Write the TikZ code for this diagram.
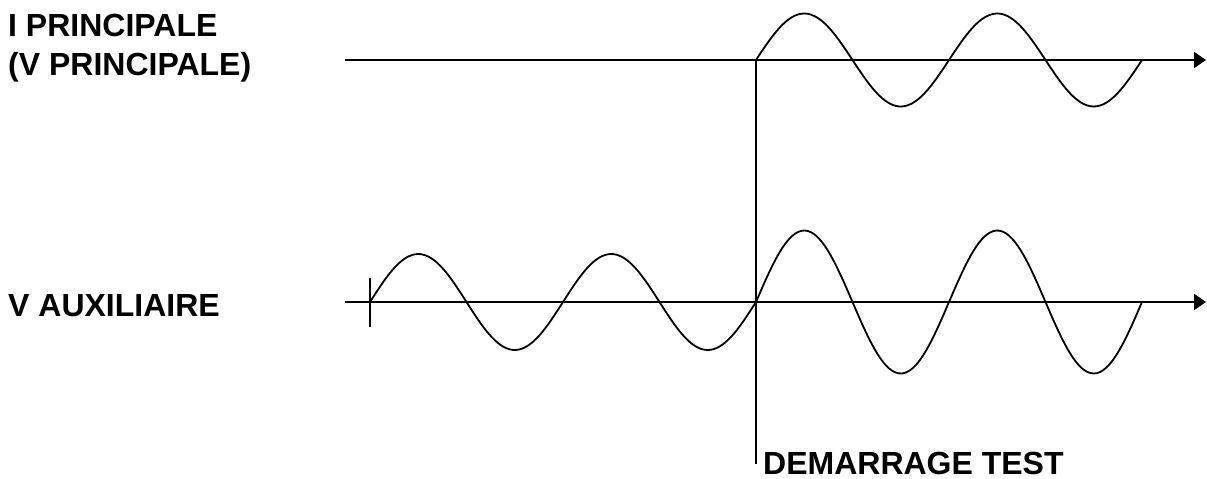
\documentclass[tikz,border=0pt]{standalone}
\usepackage{fontspec}
\setmainfont{Liberation Sans}
\usetikzlibrary{arrows.meta}
\begin{document}
\begin{tikzpicture}[x=1pt,y=-1pt,
  line/.style={line width=1.8pt,black},
  wave/.style={line width=1.8pt,black,smooth,line join=round},
  lbl/.style={font=\fontsize{32}{38}\selectfont\bfseries,inner sep=0pt}]
\useasboundingbox (0,0) rectangle (1207,479);
% coordinates
\coordinate (t0) at (345,60);
\coordinate (t1) at (1206,60);
\coordinate (b0) at (345,302);
\coordinate (b1) at (1206,302);
\coordinate (v0) at (756,60);
\coordinate (v1) at (756,464);
\coordinate (k0) at (370,278);
\coordinate (k1) at (370,327);
% axes
\draw[line,-{Triangle[length=12pt,width=16pt]}] (t0) -- (t1);
\draw[line,-{Triangle[length=12pt,width=16pt]}] (b0) -- (b1);
\draw[line] (v0) -- (v1);
\draw[line] (k0) -- (k1);
% waves
\draw[wave] plot[domain=756:1142,samples=120] (\x,{60-46.5*sin((\x-756)/193*360)});
\draw[wave] plot[domain=370:756,samples=120] (\x,{302-48*sin((\x-370)/193*360)});
\draw[wave] plot[domain=756:1142,samples=120] (\x,{302-71.5*sin((\x-756)/193*360)});
% labels
\node[lbl,anchor=base west] (l1) at (8,36) {I PRINCIPALE};
\node[lbl,anchor=base west] (l2) at (8,75) {(V PRINCIPALE)};
\node[lbl,anchor=base west] (l3) at (8,316) {V AUXILIAIRE};
\node[lbl,anchor=base west] (l4) at (763,474) {DEMARRAGE TEST};
\end{tikzpicture}
\end{document}
